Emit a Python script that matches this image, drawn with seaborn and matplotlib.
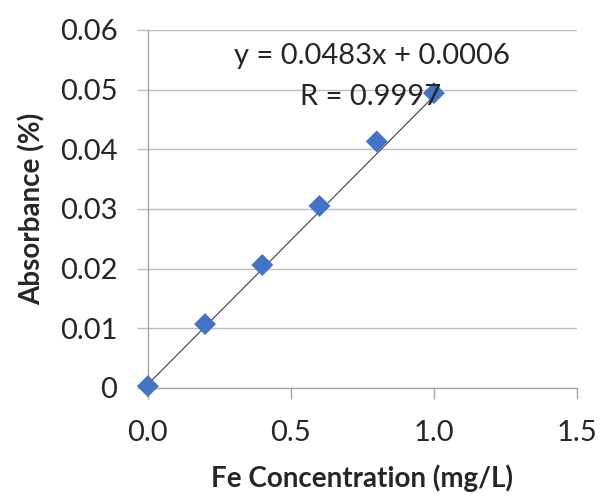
import numpy as np
import pandas as pd
import matplotlib
matplotlib.use("Agg")
import matplotlib.pyplot as plt
import seaborn as sns

# data
conc = [0.0, 0.2, 0.4, 0.6, 0.8, 1.0]
absorb = [0.0003, 0.0107, 0.0206, 0.0305, 0.0413, 0.0494]
slope = 0.0483
intercept = 0.0006
x_ticks = [0.0, 0.5, 1.0, 1.5]
y_ticks = [0, 0.01, 0.02, 0.03, 0.04, 0.05, 0.06]
y_labels = ["0", "0.01", "0.02", "0.03", "0.04", "0.05", "0.06"]

df = pd.DataFrame({"conc": conc, "abs": absorb})
fit_x = np.array([conc[0], conc[-1]])
fit = pd.DataFrame({"x": fit_x, "y": slope * fit_x + intercept})

sns.set_style("white")
plt.rcParams["font.family"] = ["Lato", "DejaVu Sans"]

fig = plt.figure(figsize=(6.01, 4.98), dpi=100)
ax = fig.add_axes([0.246, 0.221, 0.714, 0.719])

sns.lineplot(data=fit, x="x", y="y", color="#404040", linewidth=0.8, ax=ax, zorder=2)
sns.scatterplot(data=df, x="conc", y="abs", marker="D", s=125, color="#4472C4",
                edgecolor="none", ax=ax, zorder=3, clip_on=False)

ax.set_xlim(0, 1.5)
ax.set_ylim(0, 0.06)
ax.set_xticks(x_ticks)
ax.set_xticklabels([f"{v:.1f}" for v in x_ticks])
ax.set_yticks(y_ticks)
ax.set_yticklabels(y_labels)
ax.yaxis.grid(True, color="#BEBEBE", linewidth=1)
ax.xaxis.grid(False)
ax.set_axisbelow(True)

for s in ["top", "right"]:
    ax.spines[s].set_visible(False)
for s in ["left", "bottom"]:
    ax.spines[s].set_color("#A6A6A6")
    ax.spines[s].set_linewidth(1)

ax.tick_params(axis="x", direction="out", length=8, width=1, color="#A6A6A6",
               labelsize=21, pad=15, bottom=True)
ax.tick_params(axis="y", direction="out", length=8, width=1, color="#BEBEBE",
               labelsize=21, pad=14, left=True)

ax.set_xlabel("Fe Concentration (mg/L)", fontsize=20, fontweight="bold", labelpad=13)
ax.set_ylabel("Absorbance (%)", fontsize=20, fontweight="bold", labelpad=10)

ax.text(0.783, 0.0556, f"y = {slope}x + {intercept}", fontsize=21, ha="center", va="center")
ax.text(0.78, 0.0488, "R = 0.9997", fontsize=21, ha="center", va="center")

fig.savefig("out.png", dpi=100)
